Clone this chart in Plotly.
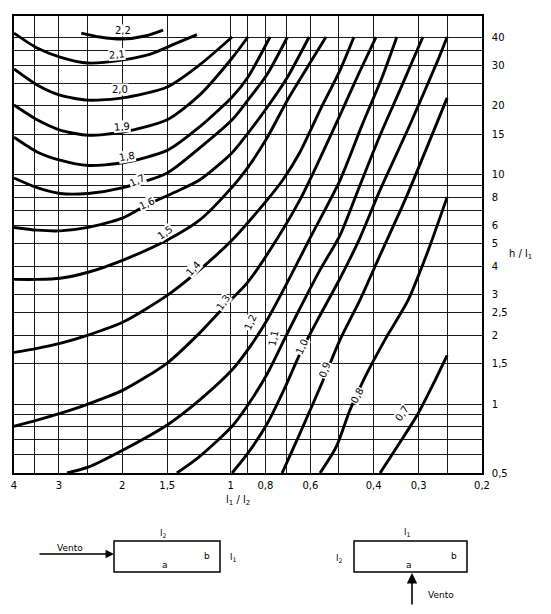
import numpy as np
import plotly.graph_objects as go

# ---------------- axes / grid ----------------
x_grid = [4, 3.5, 3, 2.5, 2, 1.5, 1, 0.9, 0.8, 0.7, 0.6, 0.5, 0.4, 0.3, 0.25, 0.2]
x_ticktext = ['4', '', '3', '', '2', '1,5', '1', '', '0,8', '', '0,6', '', '0,4', '0,3', '', '0,2']
y_grid = [40, 35, 30, 25, 20, 15, 10, 9, 8, 7, 6, 5, 4, 3, 2.5, 2, 1.5, 1, 0.9, 0.8, 0.7, 0.6, 0.5]
y_ticktext = ['40', '', '30', '', '20', '15', '10', '', '8', '', '6', '5', '4', '3', '2,5', '2',
              '1,5', '1', '', '', '', '', '0,5']

# ---------------- curves: Ca (l1/l2 , h/l1) ----------------
ca_labels = ['2,2', '2,1', '2,0', '1,9', '1,8', '1,7', '1,6', '1,5', '1,4', '1,3', '1,2', '1,1',
             '1,0', '0,9', '0,8', '0,7']

ca_22_x = [2.60, 2.31, 1.99, 1.73, 1.54]
ca_22_y = [41.6, 40.0, 39.2, 40.4, 42.9]
ca_21_x = [4.0, 3.45, 2.98, 2.49, 1.99, 1.67, 1.43, 1.24]
ca_21_y = [41.6, 35.8, 32.7, 30.8, 31.8, 33.7, 37.3, 41.0]
ca_20_x = [4.0, 3.45, 2.98, 2.49, 1.99, 1.50, 1.22, 0.99]
ca_20_y = [29.0, 24.7, 22.3, 21.2, 21.7, 24.2, 30.2, 40.0]
ca_19_x = [4.0, 3.45, 2.98, 2.49, 1.99, 1.50, 1.22, 0.99, 0.895]
ca_19_y = [20.2, 17.4, 15.7, 14.9, 15.4, 17.4, 22.3, 32.4, 40.0]
ca_18_x = [4.0, 3.45, 2.98, 2.49, 1.99, 1.50, 1.22, 0.99, 0.895, 0.777]
ca_18_y = [14.6, 12.6, 11.6, 11.0, 11.3, 12.8, 16.2, 21.9, 26.7, 40.0]
ca_17_x = [4.0, 3.45, 2.98, 2.49, 1.99, 1.50, 1.22, 0.99, 0.895, 0.79, 0.695]
ca_17_y = [9.7, 8.8, 8.3, 8.3, 8.8, 10.2, 13.1, 17.4, 21.2, 27.6, 40.0]
ca_16_x = [4.0, 3.45, 2.98, 2.49, 1.99, 1.71, 1.43, 1.22, 0.99, 0.895, 0.79, 0.695, 0.605]
ca_16_y = [5.9, 5.74, 5.7, 5.9, 6.5, 7.4, 8.4, 9.5, 12.5, 15.2, 19.8, 26.7, 40.0]
ca_15_x = [4.0, 3.45, 2.98, 2.49, 1.99, 1.50, 1.22, 0.99, 0.895, 0.79, 0.695, 0.594, 0.543]
ca_15_y = [3.5, 3.5, 3.54, 3.76, 4.25, 5.2, 6.35, 8.85, 10.8, 14.6, 21.2, 31.8, 40.0]
ca_14_x = [4.0, 3.45, 2.98, 2.49, 1.99, 1.50, 1.27, 0.99, 0.79, 0.716, 0.641, 0.564, 0.496, 0.454]
ca_14_y = [1.68, 1.75, 1.84, 2.0, 2.28, 2.98, 3.65, 5.2, 7.8, 9.5, 12.6, 19.2, 28.7, 40.0]
ca_13_x = [4.0, 3.45, 2.98, 2.49, 1.99, 1.50, 1.22, 1.02, 0.90, 0.777, 0.641, 0.564, 0.496, 0.442, 0.394]
ca_13_y = [0.80, 0.85, 0.91, 1.0, 1.15, 1.51, 2.04, 2.75, 3.37, 4.7, 7.8, 11.8, 18.3, 27.3, 40.0]
ca_12_x = [2.85, 2.49, 1.99, 1.50, 1.22, 0.99, 0.883, 0.79, 0.697, 0.594, 0.496, 0.431, 0.379, 0.345]
ca_12_y = [0.5, 0.53, 0.63, 0.81, 1.04, 1.41, 1.78, 2.34, 3.37, 5.5, 9.5, 16.5, 26.7, 40.0]
ca_11_x = [1.41, 1.22, 0.99, 0.895, 0.79, 0.706, 0.641, 0.564, 0.496, 0.437, 0.384, 0.338, 0.313, 0.292]
ca_11_y = [0.5, 0.59, 0.80, 0.99, 1.36, 1.94, 2.62, 3.85, 5.46, 9.0, 14.9, 23.5, 31.1, 40.0]
ca_10_x = [0.99, 0.895, 0.79, 0.706, 0.641, 0.564, 0.496, 0.437, 0.384, 0.317, 0.265, 0.250]
ca_10_y = [0.5, 0.61, 0.825, 1.18, 1.66, 2.44, 3.54, 5.3, 8.6, 16.6, 31.8, 40.0]
ca_09_x = [0.719, 0.641, 0.553, 0.496, 0.437, 0.384, 0.327, 0.250]
ca_09_y = [0.5, 0.746, 1.27, 1.91, 2.84, 4.47, 7.8, 21.7]
ca_08_x = [0.564, 0.509, 0.466, 0.423, 0.372, 0.321, 0.282, 0.250]
ca_08_y = [0.5, 0.648, 0.94, 1.31, 1.91, 2.84, 4.7, 8.0]
ca_07_x = [0.384, 0.349, 0.301, 0.270, 0.250]
ca_07_y = [0.5, 0.63, 0.91, 1.27, 1.63]

curves_x = [ca_22_x, ca_21_x, ca_20_x, ca_19_x, ca_18_x, ca_17_x, ca_16_x, ca_15_x, ca_14_x,
            ca_13_x, ca_12_x, ca_11_x, ca_10_x, ca_09_x, ca_08_x, ca_07_x]
curves_y = [ca_22_y, ca_21_y, ca_20_y, ca_19_y, ca_18_y, ca_17_y, ca_16_y, ca_15_y, ca_14_y,
            ca_13_y, ca_12_y, ca_11_y, ca_10_y, ca_09_y, ca_08_y, ca_07_y]

# label anchor positions (l1/l2, h/l1) and text angles
label_x = [1.99, 2.07, 2.03, 2.0, 1.94, 1.82, 1.71, 1.52, 1.27, 1.05, 0.883, 0.762, 0.633, 0.546, 0.445, 0.334]
label_y = [42.9, 33.4, 23.5, 16.3, 12.0, 9.5, 7.5, 5.6, 3.92, 2.78, 2.28, 1.94, 1.78, 1.41, 1.09, 0.91]
label_angle = [0, -5, 0, -5, -10, -25, -25, -35, -48, -55, -65, -78, -65, -70, -62, -55]

FONT = 'DejaVu Sans'

fig = go.Figure()
for cx, cy, name in zip(curves_x, curves_y, ca_labels):
    fig.add_trace(go.Scatter(x=cx, y=cy, mode='lines', name=name,
                             line=dict(color='black', width=2.9, shape='spline', smoothing=0.7),
                             showlegend=False, hoverinfo='skip'))

for lx, ly, la, t in zip(label_x, label_y, label_angle, ca_labels):
    fig.add_annotation(x=np.log10(lx), y=np.log10(ly), xref='x', yref='y', text=t,
                       xanchor='center', yanchor='middle',
                       showarrow=False, textangle=la, bgcolor='white', borderpad=0,
                       font=dict(family=FONT, size=10, color='black'))

W, H = 551, 614
L, R, T, B = 14, 69, 16, 141
X0, X1, Y0, Y1 = L, W - R, T, H - B


def px(x):
    return (x - X0) / (X1 - X0)


def py(y):
    return (Y1 - y) / (Y1 - Y0)


def label(tx, ty, t, size=10):
    fig.add_annotation(x=px(tx), y=py(ty), xref='paper', yref='paper', showarrow=False, text=t,
                       xanchor='center', yanchor='middle',
                       font=dict(family=FONT, size=size, color='black'))


# axis titles
label(238, 500, 'l<sub>1</sub> / l<sub>2</sub>')
label(520, 254, 'h / l<sub>1</sub>')

# ------------- small sketches below the chart -------------
shapes = []
for (a, b, c, d) in [(114, 541, 220, 572), (354, 541, 467, 572)]:
    shapes.append(dict(type='rect', xref='paper', yref='paper', x0=px(a), x1=px(c),
                       y0=py(b), y1=py(d), line=dict(color='black', width=1.5)))
fig.update_layout(shapes=shapes)

for (tx, ty, t) in [(163, 533, 'l<sub>2</sub>'), (165, 565, 'a'), (207, 556, 'b'), (233, 557, 'l<sub>1</sub>'),
                    (70, 548, 'Vento'),
                    (407, 532, 'l<sub>1</sub>'), (339, 558, 'l<sub>2</sub>'), (454, 556, 'b'), (409, 565, 'a'),
                    (441, 595, 'Vento')]:
    label(tx, ty, t, size=9)

fig.add_annotation(x=px(114), y=py(554), xref='paper', yref='paper', ax=-76, ay=0, text='',
                   showarrow=True, arrowhead=2, arrowsize=1.3, arrowwidth=1.3, arrowcolor='black')
fig.add_annotation(x=px(412), y=py(573), xref='paper', yref='paper', ax=0, ay=33, text='',
                   showarrow=True, arrowhead=2, arrowsize=1.3, arrowwidth=1.6, arrowcolor='black')

axis_common = dict(showgrid=True, gridcolor='#1a1a1a', gridwidth=1.2, zeroline=False,
                   showline=True, linecolor='black', linewidth=1.6, mirror=True, ticks='',
                   tickfont=dict(family=FONT, size=10, color='black'))

fig.update_xaxes(type='log', range=[np.log10(4), np.log10(0.2)], tickmode='array',
                 tickvals=x_grid, ticktext=x_ticktext, ticklabelstandoff=2, **axis_common)
fig.update_yaxes(type='log', range=[np.log10(0.5), np.log10(49.4)], tickmode='array',
                 tickvals=y_grid, ticktext=y_ticktext, side='right', ticklabelstandoff=6, **axis_common)

fig.update_layout(width=W, height=H, margin=dict(l=L, r=R, t=T, b=B),
                  paper_bgcolor='white', plot_bgcolor='white', showlegend=False)

fig.write_html('out.html')
